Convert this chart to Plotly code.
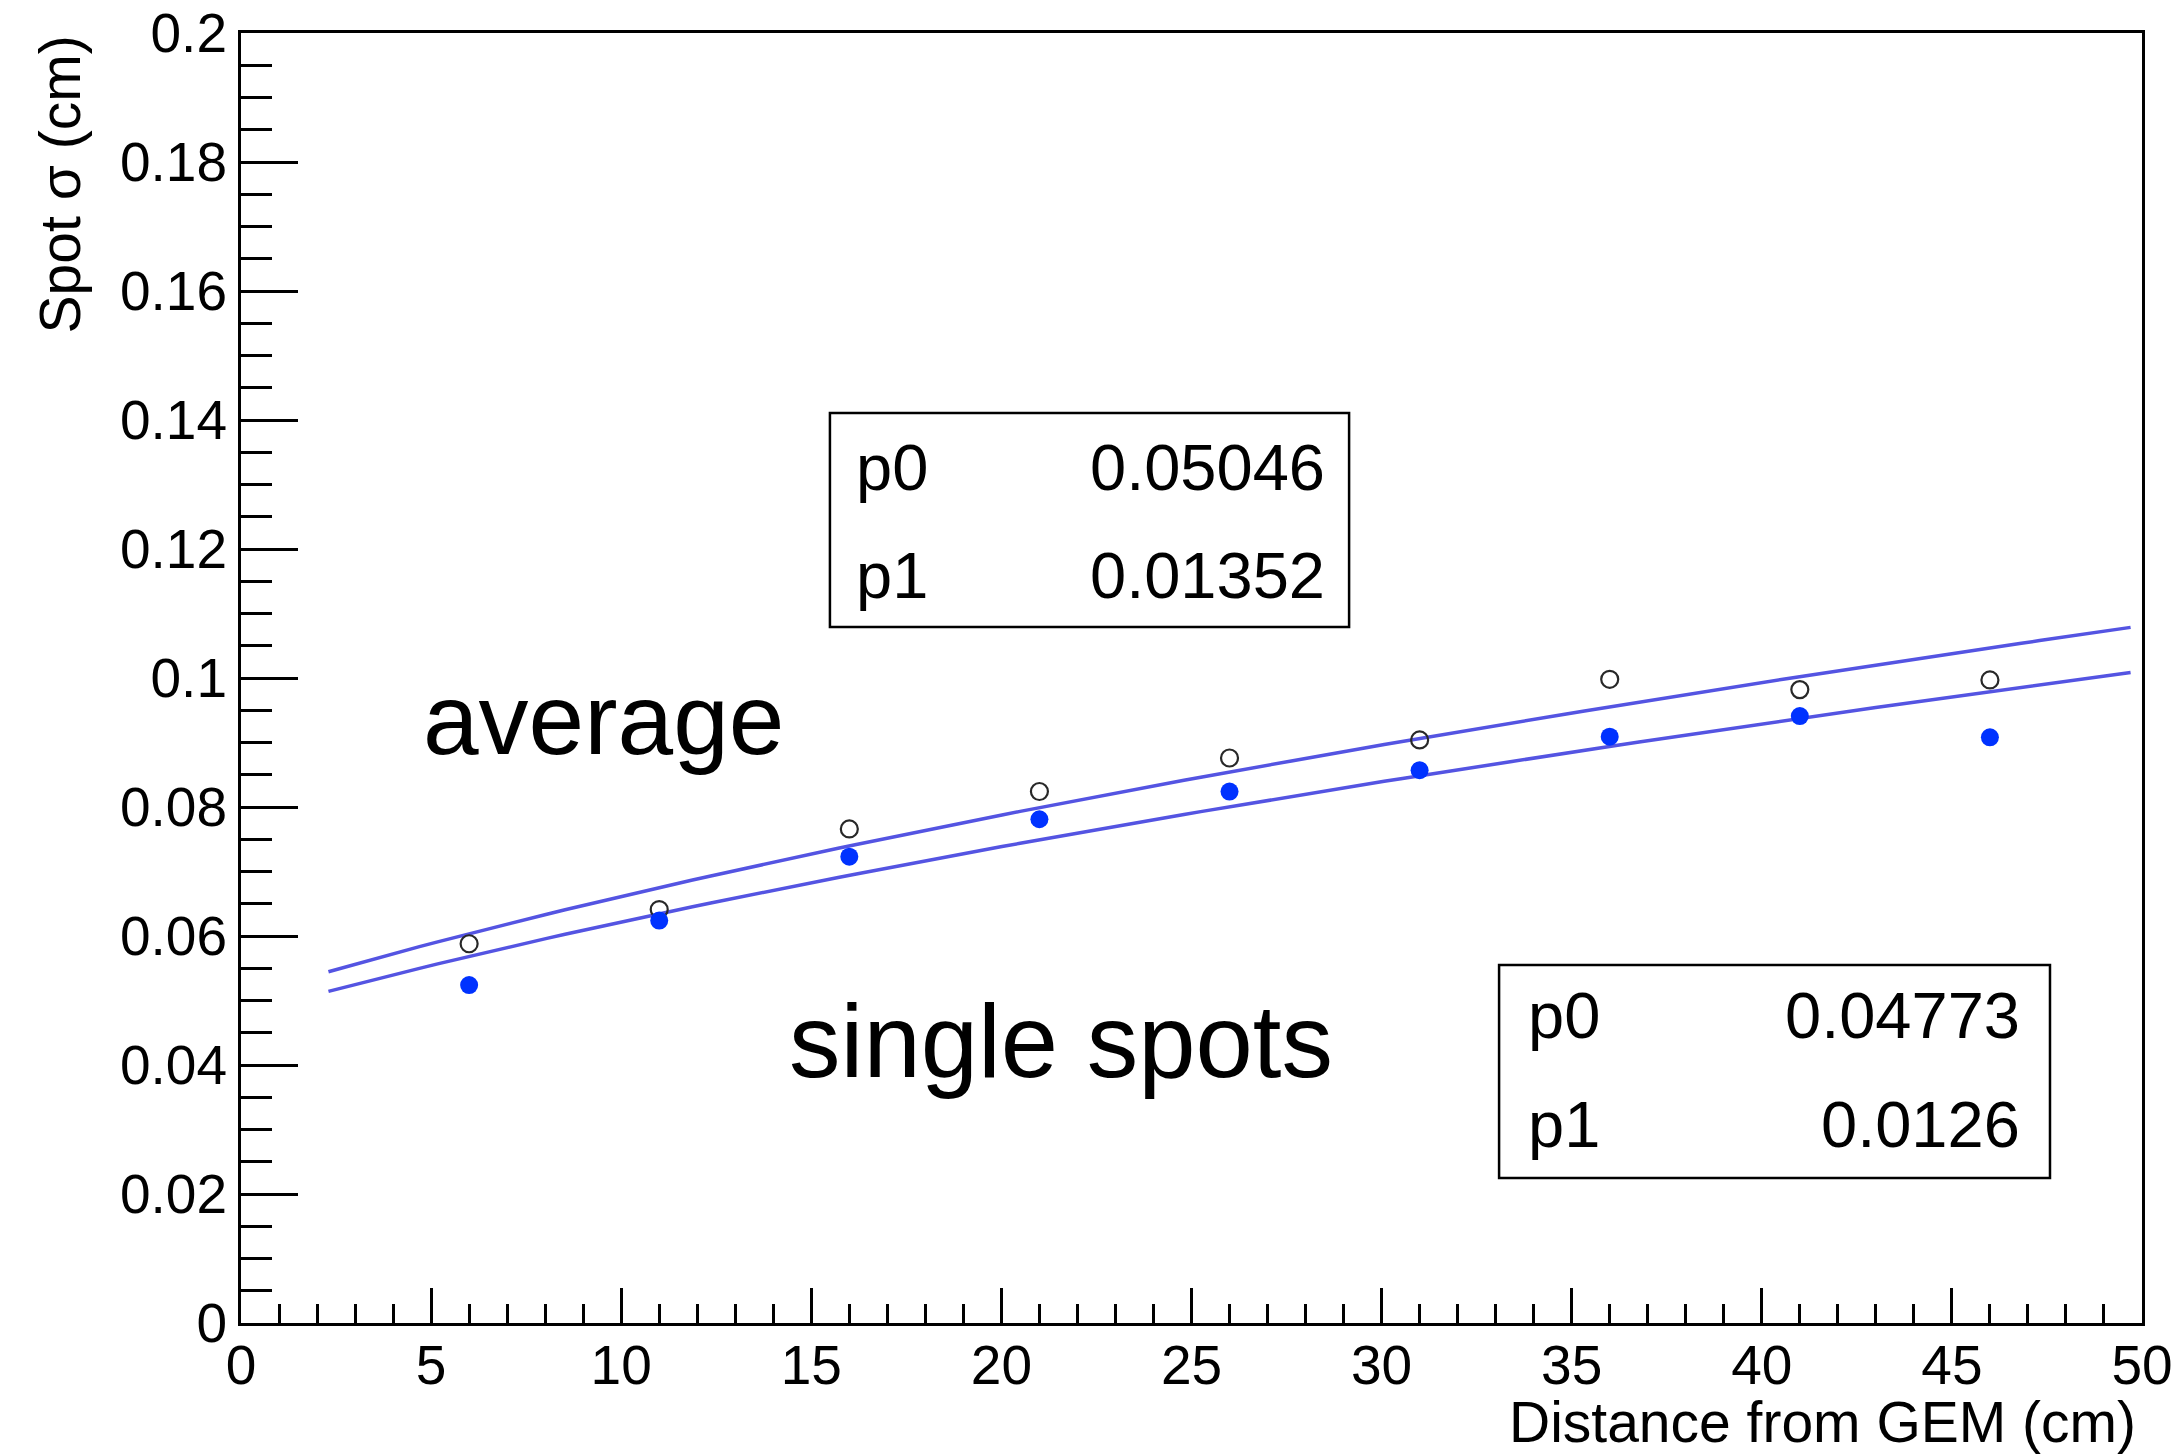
import numpy as np
import plotly.graph_objects as go

# Measured spot width vs. drift distance
distance_cm = [6, 11, 16, 21, 26, 31, 36, 41, 46]
sigma_average = [0.0588, 0.0641, 0.0766, 0.0824, 0.0876, 0.0904, 0.0998, 0.0982, 0.0997]
sigma_single = [0.0524, 0.0624, 0.0723, 0.0781, 0.0824, 0.0857, 0.0909, 0.0941, 0.0908]

# Diffusion fit sigma(z) = sqrt(p0^2 + p1^2 * z)
fit_average = {"p0": 0.05046, "p1": 0.01352}
fit_single = {"p0": 0.04773, "p1": 0.0126}
fit_range = (2.3, 49.7)

x_ticks = [0, 5, 10, 15, 20, 25, 30, 35, 40, 45, 50]
y_ticks = [0, 0.02, 0.04, 0.06, 0.08, 0.1, 0.12, 0.14, 0.16, 0.18, 0.2]
y_tick_text = ["0", "0.02", "0.04", "0.06", "0.08", "0.1", "0.12", "0.14", "0.16", "0.18", "0.2"]

FONT = "Liberation Sans, Helvetica, Arial, sans-serif"
LINE_COLOR = "rgb(84,84,226)"
DOT_COLOR = "rgb(0,50,255)"


def fit_curve(p):
    z = np.linspace(fit_range[0], fit_range[1], 100)
    return z, np.sqrt(p["p0"] ** 2 + p["p1"] ** 2 * z)


fig = go.Figure()

for p in (fit_average, fit_single):
    zx, zy = fit_curve(p)
    fig.add_trace(go.Scatter(x=zx, y=zy, mode="lines",
                             line=dict(color=LINE_COLOR, width=3.5),
                             hoverinfo="skip", showlegend=False))

fig.add_trace(go.Scatter(x=distance_cm, y=sigma_average, mode="markers",
                         marker=dict(symbol="circle-open", size=17,
                                     color="rgb(40,40,40)", line=dict(width=2.2)),
                         name="average", showlegend=False))
fig.add_trace(go.Scatter(x=distance_cm, y=sigma_single, mode="markers",
                         marker=dict(symbol="circle", size=18, color=DOT_COLOR,
                                     line=dict(width=0)),
                         name="single spots", showlegend=False))

axis_common = dict(showgrid=False, zeroline=False, showline=True, linecolor="black",
                   linewidth=3, mirror=True, ticks="inside", tickcolor="black",
                   tickwidth=2.5, automargin=False,
                   tickfont=dict(family=FONT, size=55, color="black"))

fig.update_xaxes(range=[0, 50], tickvals=x_ticks, ticklen=35, ticklabelstandoff=-8,
                 minor=dict(ticks="inside", dtick=1, ticklen=19, tickcolor="black",
                            tickwidth=2.5),
                 **axis_common)
fig.update_yaxes(range=[0, 0.2], tickvals=y_ticks, ticktext=y_tick_text, ticklen=57,
                 minor=dict(ticks="inside", dtick=0.005, ticklen=31, tickcolor="black",
                            tickwidth=2.5),
                 **axis_common)

annotations = [
    # axis titles
    dict(text="Distance from GEM (cm)", xref="paper", yref="paper", x=0.9974, y=-0.0765,
         xanchor="right", yanchor="middle", showarrow=False, borderpad=0,
         font=dict(family=FONT, size=57, color="black")),
    dict(text="Spot σ (cm)", xref="paper", yref="paper", x=-0.095, y=1.0,
         xanchor="center", yanchor="top", textangle=-90, showarrow=False,
         font=dict(family=FONT, size=57, color="black")),
    # curve labels
    dict(text="average", xref="x", yref="y", x=4.75, y=0.0936, xanchor="left",
         yanchor="middle", showarrow=False, borderpad=0,
         font=dict(family=FONT, size=100, color="black")),
    dict(text="single spots", xref="x", yref="y", x=14.4, y=0.0437, xanchor="left",
         yanchor="middle", showarrow=False, borderpad=0,
         font=dict(family=FONT, size=103, color="black")),
]

shapes = []
# fit-parameter boxes: (x0, x1, y0, y1, label x, value x, row y's, params)
boxes = [
    (0.3098, 0.5829, 0.5395, 0.7054, 0.323, 0.5705, (0.6628, 0.5798), fit_average),
    (0.6618, 0.9516, 0.1124, 0.2775, 0.6765, 0.9365, (0.238, 0.1535), fit_single),
]
for x0, x1, y0, y1, lx, vx, rows, p in boxes:
    shapes.append(dict(type="rect", xref="paper", yref="paper", x0=x0, x1=x1, y0=y0, y1=y1,
                       line=dict(color="black", width=2.5), fillcolor="white", layer="above"))
    for ry, name in zip(rows, ("p0", "p1")):
        annotations.append(dict(text=name, xref="paper", yref="paper", x=lx, y=ry,
                                xanchor="left", yanchor="middle", showarrow=False,
                                borderpad=0, font=dict(family=FONT, size=65, color="black")))
        annotations.append(dict(text=f"{p[name]:g}", xref="paper", yref="paper", x=vx, y=ry,
                                xanchor="right", yanchor="middle", showarrow=False,
                                borderpad=0, font=dict(family=FONT, size=65, color="black")))

fig.update_layout(width=2183, height=1455,
                  margin=dict(l=241, r=41, t=33, b=132),
                  paper_bgcolor="white", plot_bgcolor="white",
                  annotations=annotations, shapes=shapes, showlegend=False)

fig.write_html("out.html")
